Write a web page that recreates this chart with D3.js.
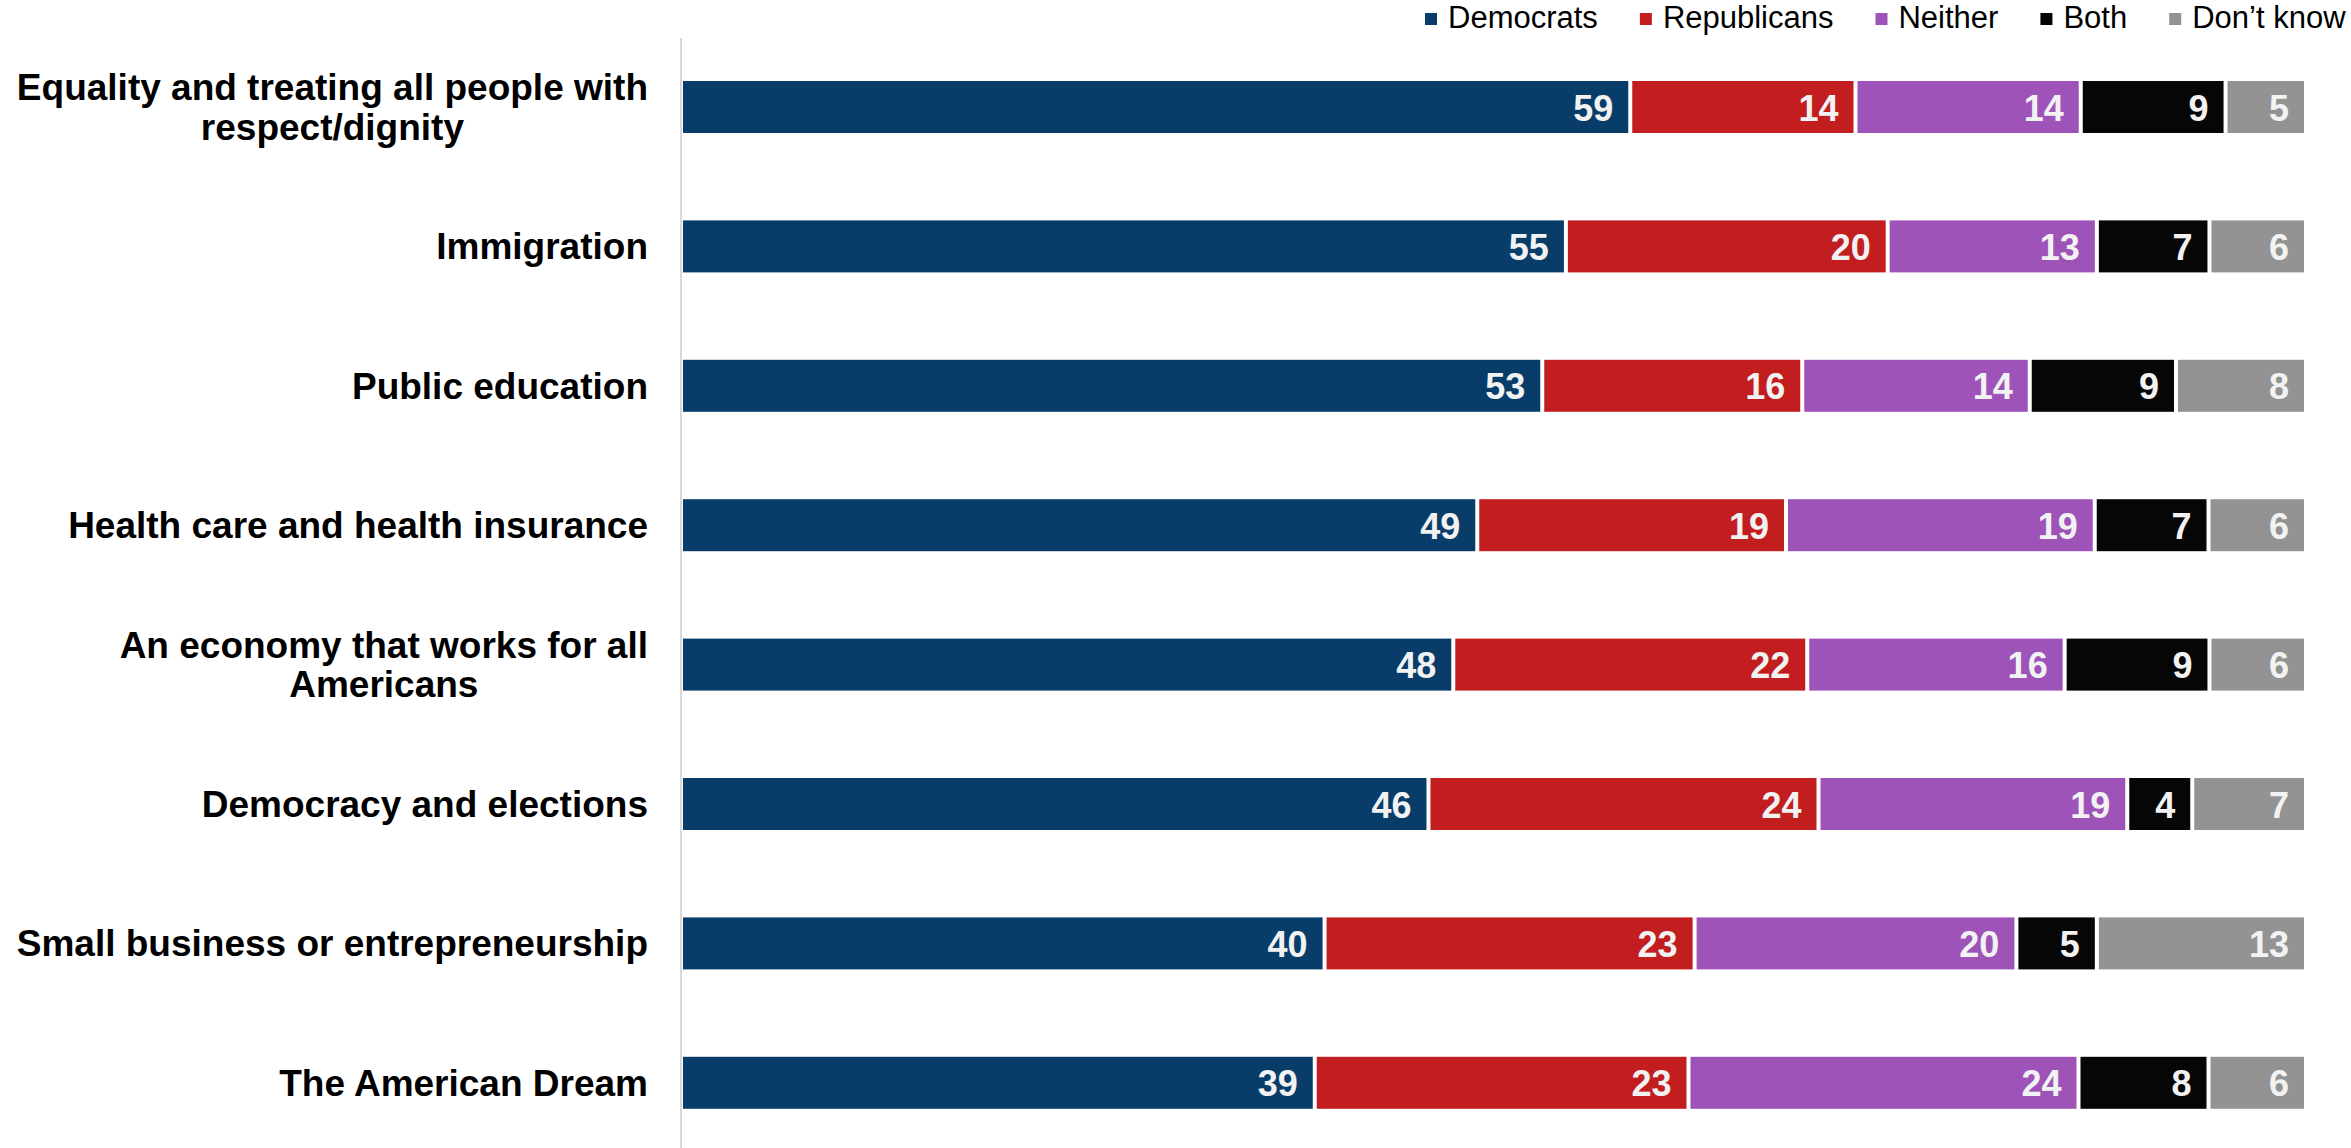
<!DOCTYPE html>
<html><head><meta charset="utf-8">
<script src="https://cdn.jsdelivr.net/npm/d3@7"></script>
<style>body{margin:0;background:#fff;overflow:hidden}</style>
</head><body>
<svg id="chart" width="2351" height="1148"></svg>
<script>
// ---- data ----
const categories = [
  "Equality and treating all people with\nrespect/dignity",
  "Immigration",
  "Public education",
  "Health care and health insurance",
  "An economy that works for all\nAmericans",
  "Democracy and elections",
  "Small business or entrepreneurship",
  "The American Dream"
];
const seriesNames = ["Democrats", "Republicans", "Neither", "Both", "Don\u2019t know"];
const democrats   = [59, 55, 53, 49, 48, 46, 40, 39];
const republicans = [14, 20, 16, 19, 22, 24, 23, 23];
const neither     = [14, 13, 14, 19, 16, 19, 20, 24];
const both        = [ 9,  7,  9,  7,  9,  4,  5,  8];
const dontKnow    = [ 5,  6,  8,  6,  6,  7, 13,  6];
const seriesColors = ["#083d69", "#c21d1f", "#9e53b8", "#060606", "#939393"];

// ---- build table ----
const seriesValues = [democrats, republicans, neither, both, dontKnow];
const rows = categories.map((c, i) => {
  const o = {category: c};
  seriesNames.forEach((s, j) => o[s] = seriesValues[j][i]);
  o.total = d3.sum(seriesValues, v => v[i]);
  return o;
});
// normalise to 100% stacked
const normRows = rows.map(r => {
  const o = {category: r.category};
  seriesNames.forEach(s => o[s] = r[s] / r.total);
  return o;
});
const stacked = d3.stack().keys(seriesNames)(normRows);

const FONT = "'Liberation Sans', Arial, Helvetica, sans-serif";
const svg = d3.select("#chart");

const x = d3.scaleLinear().domain([0, 1]).range([681, 2306]);
const y = d3.scaleBand().domain(categories).range([37.3, 1152.5])
  .paddingInner(0.627).paddingOuter(0.3135);
const color = d3.scaleOrdinal().domain(seriesNames).range(seriesColors);

// axis line
svg.append("line").attr("x1", 681).attr("x2", 681).attr("y1", 38).attr("y2", 1148)
  .attr("stroke", "#d9d9d9").attr("stroke-width", 2);

// bars
const gap = 2;
const layer = svg.append("g").selectAll("g").data(stacked).join("g")
  .attr("fill", d => color(d.key));
layer.selectAll("rect").data(d => d.map((p, i) => ({p, i, key: d.key}))).join("rect")
  .attr("x", d => x(d.p[0]) + gap)
  .attr("y", d => y(categories[d.i]))
  .attr("width", d => Math.max(0, x(d.p[1]) - x(d.p[0]) - 2 * gap))
  .attr("height", y.bandwidth());

// value labels
const labelLayer = svg.append("g").selectAll("g").data(stacked).join("g");
labelLayer.selectAll("text").data(d => d.map((p, i) => ({p, i, key: d.key}))).join("text")
  .attr("x", d => x(d.p[1]) - gap - 15)
  .attr("y", d => y(categories[d.i]) + y.bandwidth() / 2 + 13.5)
  .attr("text-anchor", "end")
  .attr("font-family", FONT).attr("font-weight", "bold").attr("font-size", 36)
  .attr("fill", "#f2f2f2")
  .text(d => rows[d.i][d.key]);

// category labels (multi-line, lines centred with each other, block right aligned)
const labelRight = 648;
categories.forEach(c => {
  const lines = c.split("\n");
  const cy = y(c) + y.bandwidth() / 2;
  const g = svg.append("g");
  const lh = 39.5;
  const t = g.selectAll("text").data(lines).join("text")
    .attr("font-family", FONT).attr("font-weight", "bold").attr("font-size", 37)
    .attr("fill", "#000")
    .attr("y", (d, k) => cy + 13 + (k - (lines.length - 1) / 2) * lh)
    .text(d => d);
  let maxW = 0;
  t.each(function () { maxW = Math.max(maxW, this.getComputedTextLength()); });
  t.attr("text-anchor", "middle").attr("x", labelRight - maxW / 2);
});

// legend
let lx = 1425;
seriesNames.forEach((s, j) => {
  svg.append("rect").attr("x", lx).attr("y", 13).attr("width", 12).attr("height", 12)
    .attr("fill", color(s));
  const t = svg.append("text").attr("x", lx + 23).attr("y", 27.5)
    .attr("font-family", FONT).attr("font-size", 31).attr("fill", "#000").text(s);
  lx = lx + 23 + t.node().getComputedTextLength() + 42;
});
</script>
</body></html>
